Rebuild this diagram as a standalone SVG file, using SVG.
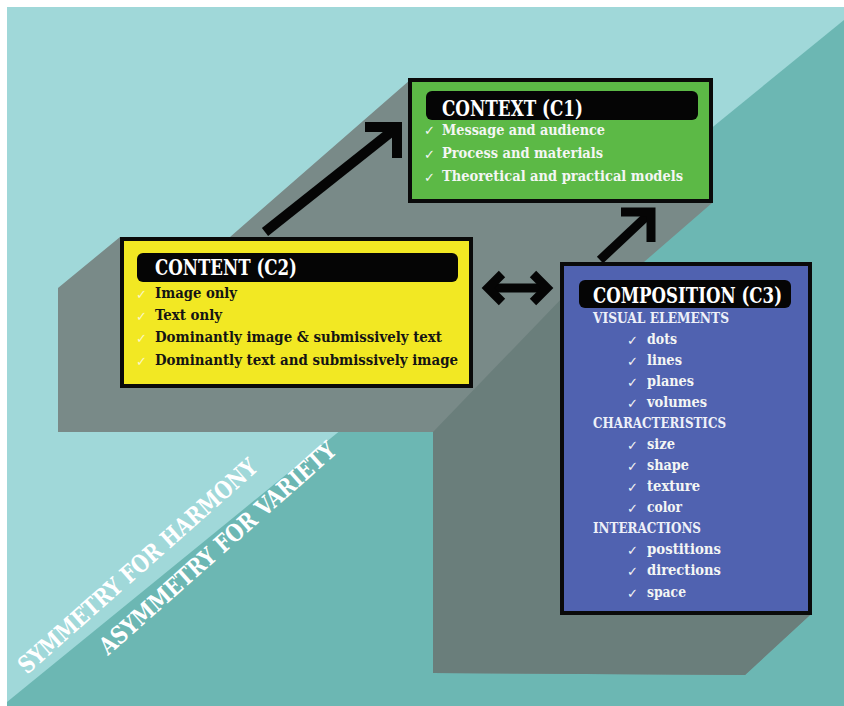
<svg xmlns="http://www.w3.org/2000/svg" width="844" height="706" viewBox="0 0 844 706">
  <style>
    .title { font-family: "DejaVu Serif Condensed", "DejaVu Serif", serif; font-stretch: condensed; font-weight: bold; font-size: 23px; fill: #ffffff; }
    .item { font-family: "DejaVu Serif Condensed", "DejaVu Serif", serif; font-stretch: condensed; font-weight: bold; font-size: 15.5px; }
    .head { font-family: "DejaVu Serif Condensed", "DejaVu Serif", serif; font-stretch: condensed; font-weight: bold; font-size: 15px; fill: #eef0f8; }
    .tick { font-family: "DejaVu Sans", sans-serif; font-size: 13px; }
    .light { fill: #f4f6f4; }
    .dark { fill: #141414; }
    .box { stroke: #0a0a0a; stroke-width: 4; }
    .bar { fill: #050505; }
    .diag { font-family: "DejaVu Serif Condensed", "DejaVu Serif", serif; font-stretch: condensed; font-weight: bold; font-size: 24px; fill: #ffffff; }
    .conn { fill: none; stroke: #050505; stroke-linecap: butt; stroke-linejoin: miter; }
  </style>

  <!-- backdrop: two tones split by a diagonal -->
  <g id="backdrop">
    <rect x="7" y="7" width="837" height="699" fill="#a0d8d9"/>
    <polygon points="844,20 844,706 7,706 7,702" fill="#6cb7b3"/>
  </g>

  <!-- extruded block behind the boxes -->
  <g id="extrusion">
    <polygon points="410,80 230,237 120,237 58,288 58,432 433,432 433,673 745,675 810,615 810,262 644,262 712,203 712,80" fill="#798a88"/>
    <polygon points="433,432 565,295 810,295 810,615 745,675 433,673" fill="#6a7e7b"/>
  </g>

  <!-- diagonal captions -->
  <g id="captions">
    <text class="diag" transform="translate(27,675) rotate(-41.5)" textLength="310" lengthAdjust="spacingAndGlyphs">SYMMETRY FOR HARMONY</text>
    <text class="diag" transform="translate(108,656) rotate(-41.5)" textLength="307" lengthAdjust="spacingAndGlyphs">ASYMMETRY FOR VARIETY</text>
  </g>

  <!-- connectors -->
  <g id="connectors">
    <line class="conn" x1="265" y1="232" x2="396" y2="128" stroke-width="10"/>
    <polyline class="conn" points="365,127 397,127 397,158" stroke-width="10"/>
    <line class="conn" x1="600" y1="260" x2="649" y2="214" stroke-width="9"/>
    <polyline class="conn" points="621,212 651,212 651,242" stroke-width="9"/>
    <line class="conn" x1="489" y1="288" x2="546" y2="288" stroke-width="9"/>
    <polyline class="conn" points="502,274 488,288 502,302" stroke-width="9"/>
    <polyline class="conn" points="533,274 547,288 533,302" stroke-width="9"/>
  </g>

  <!-- CONTEXT (C1) -->
  <g id="context">
    <rect class="box" x="410" y="80" width="301" height="121" fill="#5cb946"/>
    <rect class="bar" x="426" y="91" width="272" height="29" rx="6"/>
    <text class="title" x="442" y="116" textLength="141" lengthAdjust="spacingAndGlyphs">CONTEXT (C1)</text>
    <text class="tick light" x="424" y="135">✓</text>
    <text class="item light" x="442" y="135" textLength="163" lengthAdjust="spacingAndGlyphs">Message and audience</text>
    <text class="tick light" x="424" y="159">✓</text>
    <text class="item light" x="442" y="158" textLength="161" lengthAdjust="spacingAndGlyphs">Process and materials</text>
    <text class="tick light" x="424" y="182">✓</text>
    <text class="item light" x="442" y="181" textLength="241" lengthAdjust="spacingAndGlyphs">Theoretical and practical models</text>
  </g>

  <!-- CONTENT (C2) -->
  <g id="content">
    <rect class="box" x="122" y="239" width="349" height="147" fill="#f2e823"/>
    <rect class="bar" x="137" y="253" width="321" height="29" rx="6"/>
    <text class="title" x="155" y="275" textLength="142" lengthAdjust="spacingAndGlyphs">CONTENT (C2)</text>
    <text class="tick" x="136" y="299" fill="#fbf7c8">✓</text>
    <text class="item dark" x="155" y="298" textLength="82" lengthAdjust="spacingAndGlyphs">Image only</text>
    <text class="tick" x="136" y="321" fill="#fbf7c8">✓</text>
    <text class="item dark" x="155" y="320" textLength="67" lengthAdjust="spacingAndGlyphs">Text only</text>
    <text class="tick" x="136" y="343" fill="#fbf7c8">✓</text>
    <text class="item dark" x="155" y="342" textLength="287" lengthAdjust="spacingAndGlyphs">Dominantly image &amp; submissively text</text>
    <text class="tick" x="136" y="366" fill="#fbf7c8">✓</text>
    <text class="item dark" x="155" y="365" textLength="303" lengthAdjust="spacingAndGlyphs">Dominantly text and submissively image</text>
  </g>

  <!-- COMPOSITION (C3) -->
  <g id="composition">
    <rect class="box" x="562" y="264" width="248" height="349" fill="#5062b0"/>
    <rect class="bar" x="579" y="280" width="212" height="28" rx="6"/>
    <text class="title" x="593" y="303" textLength="189" lengthAdjust="spacingAndGlyphs">COMPOSITION (C3)</text>
    <text class="head" x="593" y="323" textLength="136" lengthAdjust="spacingAndGlyphs">VISUAL ELEMENTS</text>
    <g class="tick light">
      <text x="627" y="345">✓</text>
      <text x="627" y="366">✓</text>
      <text x="627" y="387">✓</text>
      <text x="627" y="408">✓</text>
      <text x="627" y="450">✓</text>
      <text x="627" y="471">✓</text>
      <text x="627" y="492">✓</text>
      <text x="627" y="513">✓</text>
      <text x="627" y="555">✓</text>
      <text x="627" y="576">✓</text>
      <text x="627" y="598">✓</text>
    </g>
    <text class="item light" x="647" y="344" textLength="30" lengthAdjust="spacingAndGlyphs">dots</text>
    <text class="item light" x="647" y="365" textLength="35" lengthAdjust="spacingAndGlyphs">lines</text>
    <text class="item light" x="647" y="386" textLength="47" lengthAdjust="spacingAndGlyphs">planes</text>
    <text class="item light" x="647" y="407" textLength="60" lengthAdjust="spacingAndGlyphs">volumes</text>
    <text class="head" x="593" y="428" textLength="133" lengthAdjust="spacingAndGlyphs">CHARACTERISTICS</text>
    <text class="item light" x="647" y="449" textLength="28" lengthAdjust="spacingAndGlyphs">size</text>
    <text class="item light" x="647" y="470" textLength="42" lengthAdjust="spacingAndGlyphs">shape</text>
    <text class="item light" x="647" y="491" textLength="53" lengthAdjust="spacingAndGlyphs">texture</text>
    <text class="item light" x="647" y="512" textLength="35" lengthAdjust="spacingAndGlyphs">color</text>
    <text class="head" x="593" y="533" textLength="108" lengthAdjust="spacingAndGlyphs">INTERACTIONS</text>
    <text class="item light" x="647" y="554" textLength="74" lengthAdjust="spacingAndGlyphs">postitions</text>
    <text class="item light" x="647" y="575" textLength="74" lengthAdjust="spacingAndGlyphs">directions</text>
    <text class="item light" x="647" y="597" textLength="39" lengthAdjust="spacingAndGlyphs">space</text>
  </g>
</svg>
